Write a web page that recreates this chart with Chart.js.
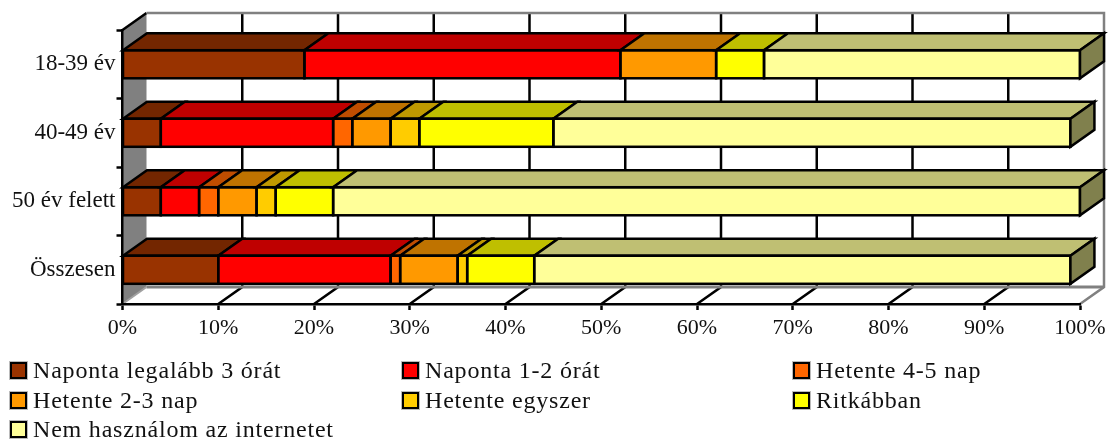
<!DOCTYPE html>
<html><head><meta charset="utf-8">
<script src="https://cdn.jsdelivr.net/npm/chart.js@4/dist/chart.umd.min.js"></script>
<style>
html,body{margin:0;padding:0;background:#fff;overflow:hidden}
#wrap{position:relative;width:1109px;height:441px}
canvas{position:absolute;left:0;top:0}
.lg{position:absolute;height:22px;line-height:22px;font-family:"Liberation Serif",serif;font-size:24px;letter-spacing:.8px;color:#111;white-space:nowrap}
.lg i{position:absolute;left:0;top:1px;width:13px;height:13px;border:2.5px solid #000;outline:1px solid #bbb}
.lg span{position:absolute;left:23px;top:-2px}
</style></head><body>
<div id="wrap"><canvas id="c" width="1109" height="441"></canvas></div>
<script>
const categories = ["18-39 év","40-49 év","50 év felett","Összesen"];
const seriesNames = ["Naponta legalább 3 órát","Naponta 1-2 órát","Hetente 4-5 nap","Hetente 2-3 nap","Hetente egyszer","Ritkábban","Nem használom az internetet"];
const naponta3 = [19,4,4,10];
const naponta12 = [33,18,4,18];
const hetente45 = [0,2,2,1];
const hetente23 = [10,4,4,6];
const hetente1 = [0,3,2,1];
const ritkabban = [5,14,6,7];
const nemHasznal = [33,54,78,56];
const seriesValues = [naponta3,naponta12,hetente45,hetente23,hetente1,ritkabban,nemHasznal];
const frontColors = ["#993300","#FF0000","#FF6600","#FF9900","#FFCC00","#FFFF00","#FFFF99"];
const topColors = ["#732600","#BF0000","#BF4D00","#BF7300","#BF9900","#BFBF00","#BFBF73"];
const sideColors = ["#4D1A00","#800000","#803300","#804D00","#806600","#808000","#80804D"];
const xTicks = [0,10,20,30,40,50,60,70,80,90,100];
const DX = 24, DY = -17, LW = 2.5, FONT = '"Liberation Serif", serif';

const walls = {
  id:'walls',
  beforeDraw(chart){
    const {ctx,chartArea:a,scales:{x}} = chart;
    ctx.save();
    ctx.lineCap='butt';
    ctx.fillStyle='#808080';
    ctx.beginPath();ctx.moveTo(a.left,a.top);ctx.lineTo(a.left+DX,a.top+DY);ctx.lineTo(a.left+DX,a.bottom+DY);ctx.lineTo(a.left,a.bottom);ctx.closePath();ctx.fill();
    ctx.lineWidth=LW;ctx.strokeStyle='#000';
    ctx.beginPath();ctx.moveTo(a.left,a.top);ctx.lineTo(a.left+DX,a.top+DY);ctx.stroke();
    xTicks.forEach(v=>{
      if(v===0||v===100)return;
      const px=x.getPixelForValue(v);
      ctx.strokeStyle='#000';ctx.lineWidth=LW;
      ctx.beginPath();ctx.moveTo(px+DX,a.top+DY);ctx.lineTo(px+DX,a.bottom+DY);ctx.lineTo(px,a.bottom);ctx.stroke();
    });
    ctx.strokeStyle='#808080';ctx.lineWidth=LW;
    const r=x.getPixelForValue(100);
    ctx.beginPath();ctx.moveTo(a.left+DX,a.top+DY);ctx.lineTo(r+DX,a.top+DY);ctx.lineTo(r+DX,a.bottom+DY);ctx.lineTo(r,a.bottom);ctx.stroke();
    ctx.lineWidth=3;
    ctx.beginPath();ctx.moveTo(a.left+DX,a.bottom+DY);ctx.lineTo(r+DX,a.bottom+DY);ctx.stroke();
    ctx.lineWidth=2;ctx.strokeStyle='#a0a0a0';
    ctx.beginPath();ctx.moveTo(a.left,a.bottom);ctx.lineTo(a.left+DX,a.bottom+DY);ctx.stroke();
    ctx.restore();
  }
};

const box3d = {
  id:'box3d',
  afterDatasetsDraw(chart){
    const ctx=chart.ctx;
    ctx.save();
    ctx.strokeStyle='#000';ctx.lineWidth=LW;ctx.lineJoin='miter';
    categories.forEach((_,j)=>{
      let last=null;
      chart.data.datasets.forEach((ds,i)=>{
        const el=chart.getDatasetMeta(i).data[j];
        if(!ds.data[j])return;
        const t=el.y-el.height/2,b=el.y+el.height/2,l=el.base,r=el.x;
        ctx.fillStyle=topColors[i];
        ctx.beginPath();ctx.moveTo(l,t);ctx.lineTo(l+DX,t+DY);ctx.lineTo(r+DX,t+DY);ctx.lineTo(r,t);ctx.closePath();ctx.fill();ctx.stroke();
        ctx.strokeRect(l,t,r-l,b-t);
        last={i,t,b,r};
      });
      if(last){
        ctx.fillStyle=sideColors[last.i];
        ctx.beginPath();ctx.moveTo(last.r,last.t);ctx.lineTo(last.r+DX,last.t+DY);ctx.lineTo(last.r+DX,last.b+DY);ctx.lineTo(last.r,last.b);ctx.closePath();ctx.fill();ctx.stroke();
      }
    });
    ctx.restore();
  }
};

new Chart(document.getElementById('c'),{
  type:'bar',
  data:{labels:categories,datasets:seriesNames.map((n,i)=>({label:n,data:seriesValues[i],backgroundColor:frontColors[i],borderWidth:0,categoryPercentage:1,barPercentage:0.41}))},
  plugins:[walls,box3d],
  options:{
    indexAxis:'y',responsive:false,animation:false,
    layout:{padding:{top:30,right:29,left:0,bottom:103}},
    plugins:{legend:{display:false},tooltip:{enabled:false}},
    scales:{
      x:{stacked:true,min:0,max:100,
        afterFit(s){s.height=34;s.paddingLeft=0;s.paddingRight=0},
        afterBuildTicks(s){s.ticks=xTicks.map(v=>({value:v}))},
        grid:{drawOnChartArea:false,tickLength:6,tickColor:'#000',tickWidth:LW},
        border:{color:'#000',width:LW},
        ticks:{autoSkip:false,maxRotation:0,padding:5,color:'#111',font:{family:FONT,size:22},callback:v=>v+'%'}},
      y:{stacked:true,
        afterFit(s){s.width=122.5},
        grid:{drawOnChartArea:false,tickLength:6,tickColor:'#000',tickWidth:LW},
        border:{color:'#000',width:LW},
        ticks:{padding:1,color:'#111',autoSkip:false,font:{family:FONT,size:23}}}
    }
  }
});

const legendX=[10,402,793], legendY=[361,391,420];
const wrap=document.getElementById('wrap');
seriesNames.forEach((n,i)=>{
  const d=document.createElement('div');d.className='lg';
  d.style.left=legendX[i%3]+'px';d.style.top=legendY[Math.floor(i/3)]+'px';
  const b=document.createElement('i');b.style.background=frontColors[i];
  const s=document.createElement('span');s.textContent=n;
  d.append(b,s);wrap.appendChild(d);
});
</script>
</body></html>
